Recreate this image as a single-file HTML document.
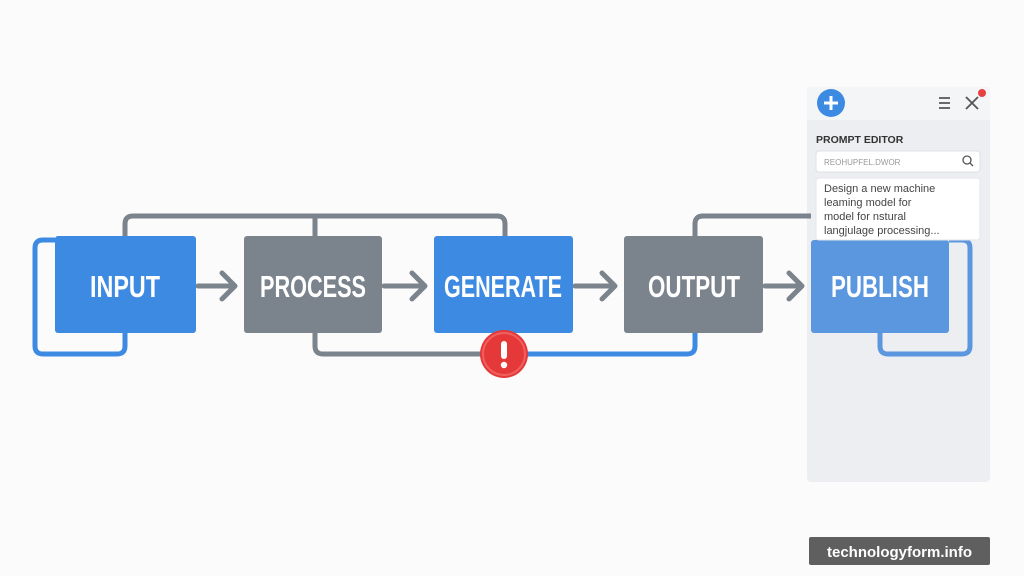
<!DOCTYPE html>
<html><head><meta charset="utf-8"><style>
html,body{margin:0;padding:0;width:1024px;height:576px;overflow:hidden;background:#fbfbfc;font-family:"Liberation Sans",sans-serif;}
.lbl{font-family:"Liberation Sans Narrow","Liberation Sans",sans-serif;font-weight:bold;}
</style></head><body>
<svg width="1024" height="576" viewBox="0 0 1024 576" xmlns="http://www.w3.org/2000/svg" style="position:absolute;left:0;top:0">
<rect x="807" y="87" width="183" height="395" rx="4" fill="#eceef2"/>
<rect x="807" y="87" width="183" height="33" fill="#f4f5f7"/>
<g fill="none" stroke-width="5" stroke-linejoin="round">
<path d="M125 236 V224 Q125 216 133 216 H497 Q505 216 505 224 V236" stroke="#7b838d"/>
<path d="M315 216 V236" stroke="#7b838d"/>
<path d="M695 236 V224 Q695 216 703 216 H811" stroke="#7b838d"/>
<path d="M125 333 V346 Q125 354 117 354 H43 Q35 354 35 346 V248 Q35 240 43 240 H55" stroke="#3d8ae3"/>
<path d="M315 333 V346 Q315 354 323 354 H485" stroke="#7b838d"/>
<path d="M520 354 H687 Q695 354 695 346 V333" stroke="#3d8ae3"/>
<path d="M880 333 V346 Q880 354 888 354 H962 Q970 354 970 346 V248 Q970 240 962 240 H949" stroke="#5a97de"/>
</g>
<g stroke="#7b838d" stroke-width="5" fill="none" stroke-linecap="round" stroke-linejoin="round">
<path d="M198 286 H234 M222 273 L235 286 L222 299"/>
<path d="M384 286 H424 M412 273 L425 286 L412 299"/>
<path d="M575 286 H614 M602 273 L615 286 L602 299"/>
<path d="M765 286 H801 M789 273 L802 286 L789 299"/>
</g>
<rect x="55" y="236" width="141" height="97" rx="3" fill="#3d8ae3"/>
<rect x="244" y="236" width="138" height="97" rx="3" fill="#7b838d"/>
<rect x="434" y="236" width="139" height="97" rx="3" fill="#3d8ae3"/>
<rect x="624" y="236" width="139" height="97" rx="3" fill="#7b838d"/>
<rect x="811" y="240" width="138" height="93" rx="3" fill="#5a97de"/>
<g class="lbl" fill="#fff" font-size="31" text-anchor="middle">
<text x="125" y="297" textLength="70" lengthAdjust="spacingAndGlyphs">INPUT</text>
<text x="313" y="297" textLength="106" lengthAdjust="spacingAndGlyphs">PROCESS</text>
<text x="503" y="297" textLength="118" lengthAdjust="spacingAndGlyphs">GENERATE</text>
<text x="694" y="297" textLength="92" lengthAdjust="spacingAndGlyphs">OUTPUT</text>
<text x="880" y="297" textLength="98" lengthAdjust="spacingAndGlyphs">PUBLISH</text>
</g>
<circle cx="504" cy="354" r="24" fill="#e53838"/>
<circle cx="504" cy="354" r="21" fill="none" stroke="#f06060" stroke-width="2"/>
<rect x="501" y="341" width="6" height="18" rx="3" fill="#fff"/>
<circle cx="504" cy="365" r="3.2" fill="#fff"/>
<circle cx="831" cy="103" r="14" fill="#3d8ae3"/>
<path d="M831 96 V110 M824 103 H838" stroke="#fff" stroke-width="3"/>
<g stroke="#555" stroke-width="1.8"><path d="M939 98 H950 M939 103 H950 M939 108 H950"/></g>
<path d="M966 97 L978 109 M978 97 L966 109" stroke="#555" stroke-width="1.8"/>
<circle cx="982" cy="93" r="4" fill="#e84040"/>
<text x="816" y="143" font-size="10.5" font-weight="bold" fill="#333" class="lbl">PROMPT EDITOR</text>
<rect x="816" y="151" width="164" height="21" rx="3" fill="#fff" stroke="#dde0e4"/>
<text x="824" y="165" font-size="8" fill="#999">REOHUPFEL.DWOR</text>
<circle cx="967" cy="160" r="4" fill="none" stroke="#555" stroke-width="1.3"/>
<path d="M970 163 L973 166" stroke="#555" stroke-width="1.3"/>
<rect x="816" y="178" width="164" height="62" rx="3" fill="#fff" stroke="#e4e6ea"/>
<g font-size="11" fill="#444">
<text x="824" y="192">Design a new machine</text>
<text x="824" y="206">leaming model for</text>
<text x="824" y="220">model for nstural</text>
<text x="824" y="234">langjulage processing...</text>
</g>
<rect x="809" y="537" width="181" height="28" rx="2" fill="#5f5f5f"/>
<text x="899.5" y="557" font-size="15" font-weight="bold" fill="#fff" text-anchor="middle">technologyform.info</text>
</svg>
</body></html>
